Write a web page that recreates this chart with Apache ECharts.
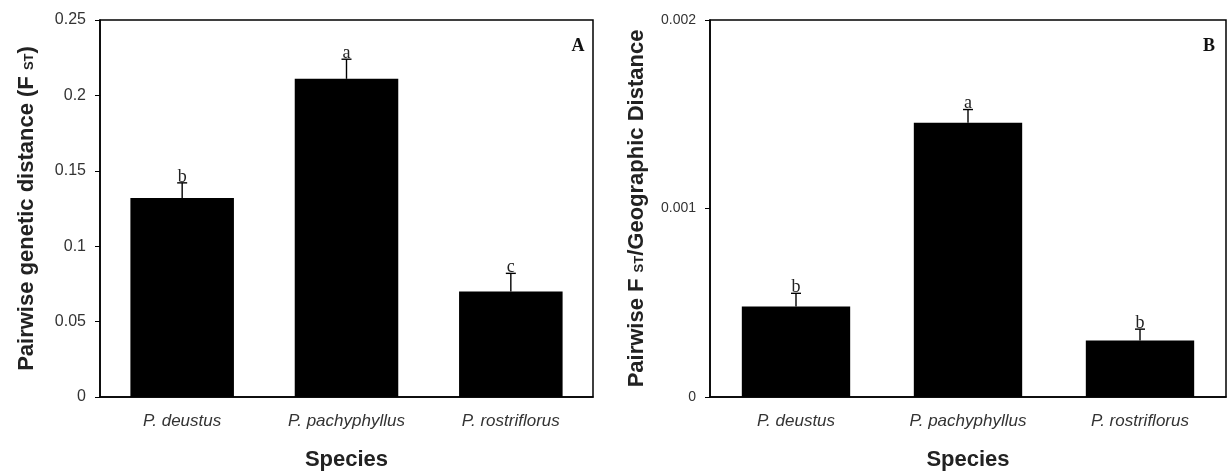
<!DOCTYPE html>
<html>
<head>
<meta charset="utf-8">
<script src="https://cdn.jsdelivr.net/npm/echarts@6/dist/echarts.min.js"></script>
<style>
  html, body { margin: 0; padding: 0; background: #fff; }
  #chart { width: 1228px; height: 476px; }
</style>
</head>
<body>
<div id="chart"></div>
<script>
// Species compared in both panels
const species = ['P. deustus', 'P. pachyphyllus', 'P. rostriflorus'];

// Panel A: pairwise genetic distance (FST), mean and standard error
const fstMean = [0.132, 0.211, 0.070];
const fstErr = [0.010, 0.013, 0.012];
const fstGroups = ['b', 'a', 'c'];

// Panel B: pairwise FST divided by geographic distance
const ratioMean = [0.00048, 0.001455, 0.000300];
const ratioErr = [0.00007, 0.00007, 0.00006];
const ratioGroups = ['b', 'a', 'b'];

// Y-axis tick settings
const fstTicks = { min: 0, max: 0.25, interval: 0.05 };
const ratioTicks = { min: 0, max: 0.002, interval: 0.001 };

const SANS = '"Liberation Sans", Arial, sans-serif';
const SERIF = '"Liberation Serif", "Times New Roman", serif';

// Upward error whisker with a small cap, plus the significance letter above it
function errorItem(means, errs, groups) {
  return function (params, api) {
    const i = api.value(0);
    const base = api.coord([i, means[i]]);
    const top = api.coord([i, means[i] + errs[i]]);
    const cap = 5;
    return {
      type: 'group',
      children: [
        { type: 'line', shape: { x1: base[0], y1: base[1], x2: top[0], y2: top[1] },
          style: { stroke: '#000', lineWidth: 1.4 } },
        { type: 'line', shape: { x1: top[0] - cap, y1: top[1], x2: top[0] + cap, y2: top[1] },
          style: { stroke: '#000', lineWidth: 1.4 } },
        { type: 'text', x: top[0], y: top[1] + 3,
          style: { text: groups[i], font: '18px ' + SERIF, fill: '#222',
                   align: 'center', verticalAlign: 'bottom' } }
      ]
    };
  };
}

function xAxisFor(gridIndex) {
  return {
    type: 'category', gridIndex, data: species,
    axisLine: { lineStyle: { color: '#000', width: 1.5 } },
    axisTick: { show: false },
    axisLabel: { fontFamily: SANS, fontStyle: 'italic', fontSize: 17, color: '#333', margin: 16 },
    name: 'Species', nameLocation: 'middle', nameGap: 52,
    nameTextStyle: { fontFamily: SANS, fontWeight: 'bold', fontSize: 22, color: '#222' }
  };
}

function yAxisFor(gridIndex, ticks, name, labelSize, gap) {
  return {
    type: 'value', gridIndex, min: ticks.min, max: ticks.max, interval: ticks.interval,
    axisLine: { show: true, lineStyle: { color: '#000', width: 1.5 } },
    axisTick: { show: true, inside: false, length: 5, lineStyle: { color: '#000' } },
    splitLine: { show: false },
    axisLabel: { fontFamily: SANS, fontSize: labelSize, color: '#333', margin: 14 },
    name, nameLocation: 'middle', nameRotate: 90, nameGap: gap,
    nameTextStyle: {
      fontFamily: SANS, fontWeight: 'bold', fontSize: 22, color: '#222',
      rich: {
        b: { fontFamily: SANS, fontWeight: 'bold', fontSize: 22, color: '#222' },
        s: { fontFamily: SANS, fontWeight: 'bold', fontSize: 13, color: '#222', padding: [5, 0, 0, 0] }
      }
    }
  };
}

const chart = echarts.init(document.getElementById('chart'), null, { renderer: 'canvas' });

chart.setOption({
  backgroundColor: '#fff',
  animation: false,
  grid: [
    { left: 100, top: 20, width: 493, height: 380, show: true, borderColor: '#000', borderWidth: 1.5 },
    { left: 710, top: 20, width: 516, height: 380, show: true, borderColor: '#000', borderWidth: 1.5 }
  ],
  xAxis: [xAxisFor(0), xAxisFor(1)],
  yAxis: [
    yAxisFor(0, fstTicks, '{b|Pairwise genetic distance (F }{s|ST}{b|)}', 16, 62),
    yAxisFor(1, ratioTicks, '{b|Pairwise F }{s|ST}{b|/Geographic Distance}', 14, 62)
  ],
  graphic: [
    { type: 'text', x: 578, y: 46, style: { text: 'A', font: 'bold 18px ' + SERIF, fill: '#111', align: 'center', verticalAlign: 'middle' } },
    { type: 'text', x: 1209, y: 46, style: { text: 'B', font: 'bold 18px ' + SERIF, fill: '#111', align: 'center', verticalAlign: 'middle' } }
  ],
  series: [
    { type: 'bar', xAxisIndex: 0, yAxisIndex: 0, data: fstMean, barWidth: '63%',
      itemStyle: { color: '#000' } },
    { type: 'custom', xAxisIndex: 0, yAxisIndex: 0, data: species.map((s, i) => [i]),
      renderItem: errorItem(fstMean, fstErr, fstGroups), z: 5 },
    { type: 'bar', xAxisIndex: 1, yAxisIndex: 1, data: ratioMean, barWidth: '63%',
      itemStyle: { color: '#000' } },
    { type: 'custom', xAxisIndex: 1, yAxisIndex: 1, data: species.map((s, i) => [i]),
      renderItem: errorItem(ratioMean, ratioErr, ratioGroups), z: 5 }
  ]
});
</script>
</body>
</html>
